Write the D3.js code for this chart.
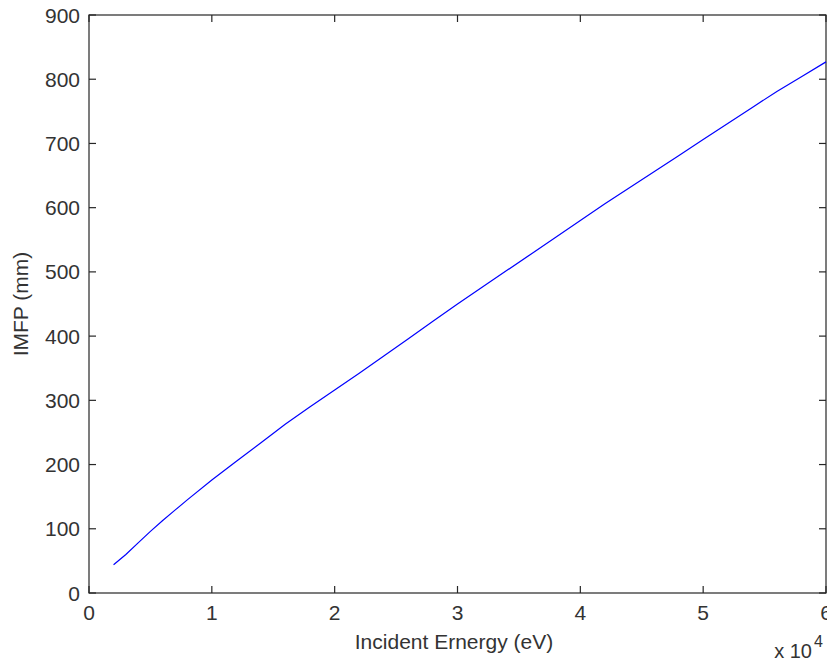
<!DOCTYPE html>
<html>
<head>
<meta charset="utf-8">
<script src="https://cdn.jsdelivr.net/npm/d3@7"></script>
<style>
  body { margin: 0; background: #fff; }
  svg { display: block; font-family: "Liberation Sans", Arial, sans-serif; }
</style>
</head>
<body>
<svg width="827" height="666"></svg>
<script>
// incident energy (eV) and inelastic mean free path (mm)
const energy = [2000, 3000, 4000, 5000, 6000, 7000, 8000, 10000, 12000, 14000, 16000, 18000,
  20000, 22000, 24000, 26000, 28000, 30000, 32000, 34000, 36000, 38000, 40000, 42000,
  44000, 46000, 48000, 50000, 52000, 54000, 56000, 58000, 60000];
const imfp = [44, 60, 78, 96, 113, 129, 145, 176, 205, 234, 263, 290,
  316, 342, 369, 396, 423, 450, 476, 502, 528, 554, 580, 606,
  631, 656, 681, 706, 731, 756, 781, 804, 827];
const xTicks = [0, 1, 2, 3, 4, 5, 6];   // x 10^4
const yTicks = [0, 100, 200, 300, 400, 500, 600, 700, 800, 900];

document.addEventListener("DOMContentLoaded", () => {
    const svg = d3.select("svg");
    const left = 89, right = 826, top = 15, bottom = 593;
    const tick = 7;
    const ink = "#262626";

    const x = d3.scaleLinear().domain([0, 60000]).range([left, right]);
    const y = d3.scaleLinear().domain([0, 900]).range([bottom, top]);

    //axes box
    svg.append("rect")
        .attr("x", left).attr("y", top)
        .attr("width", right - left).attr("height", bottom - top)
        .attr("fill", "none").attr("stroke", ink).attr("stroke-width", 1.2);

    const g = svg.append("g").attr("font-size", "21px").attr("fill", "#333");

    //x ticks (bottom and top, pointing inward)
    xTicks.forEach(t => {
        const px = x(t * 10000);
        g.append("line").attr("x1", px).attr("x2", px).attr("y1", bottom).attr("y2", bottom - tick)
            .attr("stroke", ink).attr("stroke-width", 1.2);
        g.append("line").attr("x1", px).attr("x2", px).attr("y1", top).attr("y2", top + tick)
            .attr("stroke", ink).attr("stroke-width", 1.2);
        g.append("text").attr("x", px).attr("y", bottom + 27)
            .attr("text-anchor", "middle").text(t);
    });

    //y ticks (left and right)
    yTicks.forEach(t => {
        const py = y(t);
        g.append("line").attr("x1", left).attr("x2", left + tick).attr("y1", py).attr("y2", py)
            .attr("stroke", ink).attr("stroke-width", 1.2);
        g.append("line").attr("x1", right).attr("x2", right - tick).attr("y1", py).attr("y2", py)
            .attr("stroke", ink).attr("stroke-width", 1.2);
        g.append("text").attr("x", left - 9).attr("y", py + 7.5)
            .attr("text-anchor", "end").text(t);
    });

    //exponent
    g.append("text").attr("x", 812).attr("y", 658).attr("text-anchor", "end")
        .attr("font-size", "20px").text("x 10");
    g.append("text").attr("x", 814).attr("y", 647).attr("font-size", "16px").text("4");

    //labels
    g.append("text").attr("x", 454).attr("y", 649)
        .attr("text-anchor", "middle").text("Incident Ernergy (eV)");
    g.append("text")
        .attr("transform", "translate(28," + ((top + bottom) / 2) + ") rotate(-90)")
        .attr("text-anchor", "middle").text("IMFP (mm)");

    //curve
    const line = d3.line().x((d, i) => x(energy[i])).y(d => y(d));
    svg.append("path")
        .datum(imfp)
        .attr("d", line)
        .attr("fill", "none")
        .attr("stroke", "#0000ff")
        .attr("stroke-width", 1.2);
});
</script>
</body>
</html>
